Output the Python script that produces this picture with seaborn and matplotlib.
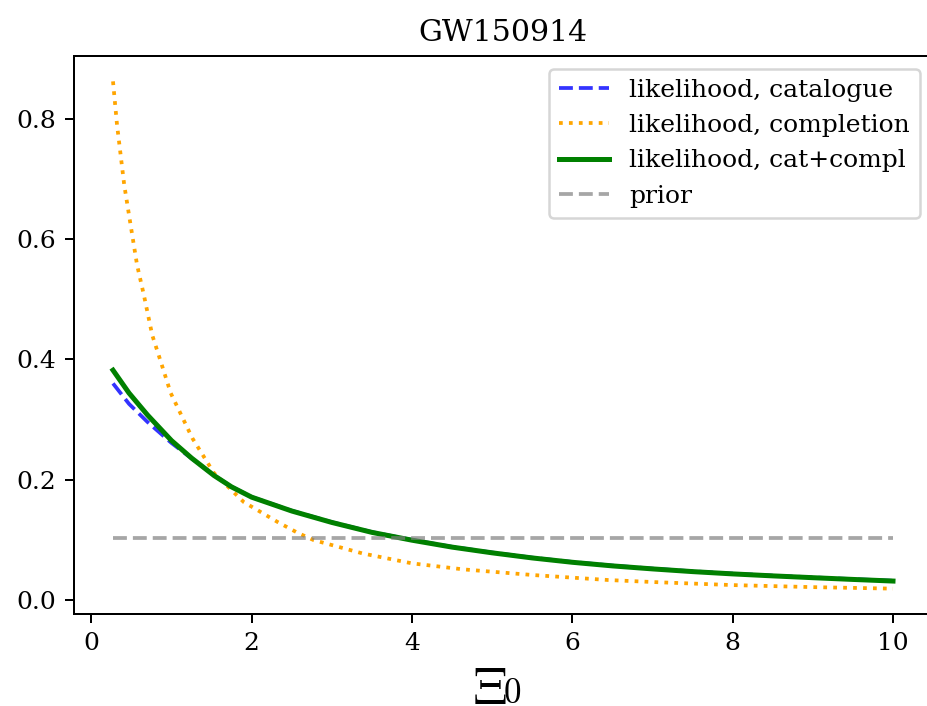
import matplotlib
matplotlib.use("Agg")
import matplotlib.pyplot as plt
import seaborn as sns
import pandas as pd

plt.rcParams["font.family"] = "serif"
plt.rcParams["font.serif"] = ["DejaVu Serif"]
plt.rcParams["mathtext.fontset"] = "cm"

# likelihood from the galaxy catalogue only
cat_x = [0.27, 0.47, 0.70, 1.0, 1.25, 1.53, 1.75, 2.0, 2.5, 3.0, 3.5, 4.0, 4.5, 5.0,
         5.5, 6.0, 6.5, 7.0, 7.5, 8.0, 8.5, 9.0, 9.5, 10.0]
cat_y = [0.360, 0.326, 0.296, 0.261, 0.2355, 0.2073, 0.1883, 0.1713, 0.1485, 0.1295,
         0.113, 0.1, 0.0885, 0.079, 0.0705, 0.0633, 0.0573, 0.0523, 0.0478, 0.044,
         0.0407, 0.0377, 0.0348, 0.0321]

# likelihood from the completion term only
compl_x = [0.27, 0.32, 0.365, 0.41, 0.49, 0.53, 0.57, 0.655, 0.76, 0.84, 0.99, 1.26, 1.53,
           1.90, 2.32, 2.57, 2.77, 3.38, 4.0, 4.64, 5.51, 6.45, 7.0, 8.0, 9.0, 10.0]
compl_y = [0.862, 0.790, 0.740, 0.690, 0.623, 0.590, 0.557, 0.507, 0.440, 0.407, 0.344,
           0.269, 0.211, 0.163, 0.130, 0.112, 0.0998, 0.0776, 0.061, 0.051, 0.0416, 0.0333,
           0.030, 0.0249, 0.0215, 0.019]

# combined catalogue + completion likelihood
comb_x = [0.27, 0.47, 0.70, 1.0, 1.25, 1.53, 1.75, 2.0, 2.5, 3.0, 3.5, 4.0, 4.5, 5.0,
          5.5, 6.0, 6.5, 7.0, 7.5, 8.0, 8.5, 9.0, 9.5, 10.0]
comb_y = [0.382, 0.344, 0.3076, 0.265, 0.236, 0.207, 0.188, 0.171, 0.148, 0.129,
          0.1125, 0.0995, 0.088, 0.0785, 0.070, 0.0628, 0.0568, 0.0518, 0.0473, 0.0435,
          0.0402, 0.0372, 0.0343, 0.0316]

# flat prior on Xi_0
prior_x = [0.27, 10.0]
prior_y = [0.103, 0.103]

fig = plt.figure(figsize=(927 / 180, 706 / 180), dpi=180)
ax = fig.add_axes([74 / 927, 1 - 614 / 706, (932 - 74) / 927, (614 - 56) / 706])

sns.lineplot(data=pd.DataFrame({"x": cat_x, "y": cat_y}), x="x", y="y", ax=ax,
             color="blue", alpha=0.8, linestyle="--", linewidth=1.5,
             label="likelihood, catalogue")
sns.lineplot(data=pd.DataFrame({"x": compl_x, "y": compl_y}), x="x", y="y", ax=ax,
             color="orange", linestyle=":", linewidth=1.5,
             label="likelihood, completion")
sns.lineplot(data=pd.DataFrame({"x": comb_x, "y": comb_y}), x="x", y="y", ax=ax,
             color="green", linestyle="-", linewidth=2,
             label="likelihood, cat+compl")
sns.lineplot(data=pd.DataFrame({"x": prior_x, "y": prior_y}), x="x", y="y", ax=ax,
             color="grey", alpha=0.7, linestyle="--", linewidth=1.5,
             label="prior")

ax.set_title("GW150914")
ax.set_ylabel("")
ax.set_xticks([0, 2, 4, 6, 8, 10])
ax.set_yticks([0.0, 0.2, 0.4, 0.6, 0.8])
ax.legend(loc="upper right")

# x label: large Xi with a subscript zero
ax.set_xlabel(r"$\Xi$", fontsize=21)
ax.xaxis.set_label_coords((489 - 74) / 858, (614 - 664) / 558)
ax.text((503 - 74) / 858, (614 - 676) / 558, r"$0$", fontsize=14,
        ha="left", va="top", transform=ax.transAxes, clip_on=False)

fig.savefig("out.png", dpi=180)
